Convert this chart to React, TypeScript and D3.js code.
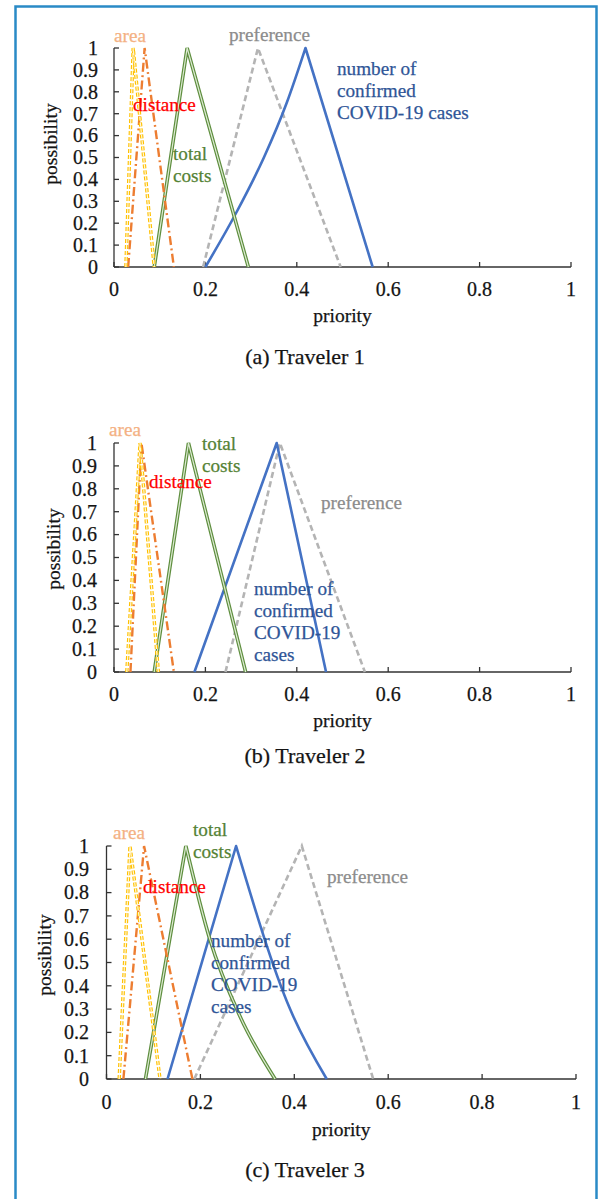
import React from "react";
import * as d3 from "d3";

type Pt = [number, number];

const W = 599;
const H = 1199;
const FONT = "'Liberation Serif', 'Times New Roman', Times, serif";

const xTicks = [0, 0.2, 0.4, 0.6, 0.8, 1];
const yTicks = [0, 0.1, 0.2, 0.3, 0.4, 0.5, 0.6, 0.7, 0.8, 0.9, 1];
const captions = ["(a) Traveler 1", "(b) Traveler 2", "(c) Traveler 3"];

// traveler 1: [priority, possibility]
const t1Area: Pt[] = [[0.026, 0], [0.042, 1], [0.088, 0]];
const t1Distance: Pt[] = [[0.031, 0], [0.067, 1], [0.131, 0]];
const t1Costs: Pt[] = [[0.088, 0], [0.16, 1], [0.294, 0]];
const t1Preference: Pt[] = [[0.195, 0], [0.315, 1], [0.496, 0]];
const t1Covid: Pt[] = [[0.2, 0], [0.268, 0.25], [0.328, 0.5], [0.378, 0.75], [0.419, 1], [0.566, 0]];

// traveler 2
const t2Area: Pt[] = [[0.028, 0], [0.057, 1], [0.097, 0]];
const t2Distance: Pt[] = [[0.036, 0], [0.06, 1], [0.131, 0]];
const t2Costs: Pt[] = [[0.088, 0], [0.163, 1], [0.288, 0]];
const t2Preference: Pt[] = [[0.244, 0], [0.363, 1], [0.549, 0]];
const t2Covid: Pt[] = [[0.176, 0], [0.356, 1], [0.464, 0]];

// traveler 3
const t3Area: Pt[] = [[0.027, 0], [0.05, 1], [0.114, 0]];
const t3Distance: Pt[] = [[0.036, 0], [0.08, 1], [0.183, 0]];
const t3Costs: Pt[] = [[0.083, 0], [0.169, 1], [0.22, 0.6], [0.284, 0.27], [0.359, 0]];
const t3Preference: Pt[] = [[0.187, 0], [0.416, 1], [0.568, 0]];
const t3Covid: Pt[] = [[0.13, 0], [0.276, 1], [0.391, 0.3], [0.469, 0]];

const labelArea = ["area"];
const labelDistance = ["distance"];
const labelCosts = ["total", "costs"];
const labelPreference = ["preference"];
const labelCovid1 = ["number of", "confirmed", "COVID-19 cases"];
const labelCovid = ["number of", "confirmed", "COVID-19", "cases"];

const COLORS = {
  area: "#FFC000",
  areaText: "#F4B183",
  distance: "#ED7D31",
  distanceText: "#FF0000",
  costs: "#5E8E3E",
  costsText: "#548235",
  preference: "#B4B4B4",
  preferenceText: "#8C8C8C",
  covid: "#4472C4",
  covidText: "#2F5597",
};

interface LabelPos {
  x: number;
  y: number;
}

interface PanelProps {
  area: Pt[];
  distance: Pt[];
  costs: Pt[];
  preference: Pt[];
  covid: Pt[];
  covidLines: string[];
  caption: string;
  x0: number;
  x1: number;
  yTop: number;
  yBottom: number;
  yTickRight: number;
  xTickBase: number;
  titleBase: number;
  captionBase: number;
  yTitleX: number;
  yTitleY: number;
  pos: { area: LabelPos; distance: LabelPos; costs: LabelPos; preference: LabelPos; covid: LabelPos };
}

const ink = "#141414";

const Panel = (p: PanelProps) => {
  const x = d3.scaleLinear().domain([0, 1]).range([p.x0, p.x1]);
  const y = d3.scaleLinear().domain([0, 1]).range([p.yBottom, p.yTop]);
  const smooth = d3.line<Pt>().x((d) => x(d[0])).y((d) => y(d[1])).curve(d3.curveMonotoneX);
  // split at the peak so the top stays sharp, smooth each side
  const line = (pts: Pt[]) => {
    const k = d3.maxIndex(pts, (d) => d[1]);
    return `${smooth(pts.slice(0, k + 1)) ?? ""}${(smooth(pts.slice(k)) ?? "").replace(/^M/, "L")}`;
  };
  const axisColor = "#333";

  const textBlock = (lines: string[], pos: LabelPos, color: string, key: string) => (
    <text key={key} x={pos.x} y={pos.y} fill={color} stroke={color} strokeWidth={0.25} fontSize={19.2} fontFamily={FONT}>
      {lines.map((l, i) => (
        <tspan key={i} x={pos.x} dy={i === 0 ? 0 : 22}>
          {l}
        </tspan>
      ))}
    </text>
  );

  return (
    <g>
      {/* axes */}
      <line x1={x(0)} x2={x(1)} y1={y(0)} y2={y(0)} stroke={axisColor} strokeWidth={1.3} />
      <line x1={x(0)} x2={x(0)} y1={y(0)} y2={y(1)} stroke={axisColor} strokeWidth={1.3} />
      <g fontFamily={FONT} fill={ink} stroke={ink} strokeWidth={0.25}>
        {xTicks.map((t) => (
          <g key={`x${t}`}>
            <line x1={x(t)} x2={x(t)} y1={y(0)} y2={y(0) - 5} stroke={axisColor} strokeWidth={1.3} />
            <text x={x(t)} y={p.xTickBase} textAnchor="middle" fontSize={20}>
              {d3.format("~g")(t)}
            </text>
          </g>
        ))}
        {yTicks.map((t) => (
          <g key={`y${t}`}>
            <line x1={x(0)} x2={x(0) + 5} y1={y(t)} y2={y(t)} stroke={axisColor} strokeWidth={1.3} />
            <text x={p.yTickRight} y={y(t)} dy="0.34em" textAnchor="end" fontSize={20}>
              {d3.format("~g")(t)}
            </text>
          </g>
        ))}
        <text x={(x(0) + x(1)) / 2} y={p.titleBase} textAnchor="middle" fontSize={19.5}>
          priority
        </text>
        <text transform={`translate(${p.yTitleX},${p.yTitleY}) rotate(-90)`} textAnchor="middle" fontSize={19.5}>
          possibility
        </text>
        <text x={305} y={p.captionBase} textAnchor="middle" fontSize={22}>
          {p.caption}
        </text>
      </g>

      {/* series */}
      <path d={line(p.preference)} fill="none" stroke={COLORS.preference} strokeWidth={2.6} strokeDasharray="6 3.5" />
      <path d={line(p.covid)} fill="none" stroke={COLORS.covid} strokeWidth={2.6} strokeLinejoin="round" />
      <path d={line(p.costs)} fill="none" stroke={COLORS.costs} strokeWidth={3.6} />
      <path d={line(p.costs)} fill="none" stroke="#DDEBD3" strokeWidth={1.2} />
      <path d={line(p.distance)} fill="none" stroke={COLORS.distance} strokeWidth={2.4} strokeDasharray="9 3.5 1.8 3.5" />
      <path d={line(p.area)} fill="none" stroke={COLORS.area} strokeWidth={3.4} strokeDasharray="4 2" />
      <path d={line(p.area)} fill="none" stroke="#FFF6D5" strokeWidth={1.2} strokeDasharray="4 2" />

      {/* labels */}
      {textBlock(labelArea, p.pos.area, COLORS.areaText, "la")}
      {textBlock(labelPreference, p.pos.preference, COLORS.preferenceText, "lp")}
      {textBlock(labelDistance, p.pos.distance, COLORS.distanceText, "ld")}
      {textBlock(labelCosts, p.pos.costs, COLORS.costsText, "lc")}
      {textBlock(p.covidLines, p.pos.covid, COLORS.covidText, "lv")}
    </g>
  );
};

export default function App() {
  return (
    <svg
      width={W}
      height={H}
      viewBox={`0 0 ${W} ${H}`}
      style={{ position: "absolute", left: 0, top: 0, background: "#fff" }}
    >
      <rect x={0} y={0} width={W} height={H} fill="#fff" />
      <path d={`M15.5,${H + 5} V6.5 H596.5 V${H + 5}`} fill="none" stroke="#2A8AC6" strokeWidth={2.5} />

      <Panel
        area={t1Area}
        distance={t1Distance}
        costs={t1Costs}
        preference={t1Preference}
        covid={t1Covid}
        covidLines={labelCovid1}
        caption={captions[0]}
        x0={114}
        x1={571}
        yTop={48}
        yBottom={267}
        yTickRight={98}
        xTickBase={296}
        titleBase={322}
        captionBase={364}
        yTitleX={57}
        yTitleY={144}
        pos={{
          area: { x: 114, y: 42 },
          preference: { x: 229, y: 41 },
          distance: { x: 133, y: 111 },
          costs: { x: 173, y: 160 },
          covid: { x: 337, y: 75 },
        }}
      />
      <Panel
        area={t2Area}
        distance={t2Distance}
        costs={t2Costs}
        preference={t2Preference}
        covid={t2Covid}
        covidLines={labelCovid}
        caption={captions[1]}
        x0={114}
        x1={571}
        yTop={443}
        yBottom={672}
        yTickRight={97}
        xTickBase={701}
        titleBase={727}
        captionBase={763}
        yTitleX={60}
        yTitleY={549}
        pos={{
          area: { x: 109, y: 436 },
          preference: { x: 321, y: 509 },
          distance: { x: 149, y: 488 },
          costs: { x: 202, y: 450 },
          covid: { x: 254, y: 595 },
        }}
      />
      <Panel
        area={t3Area}
        distance={t3Distance}
        costs={t3Costs}
        preference={t3Preference}
        covid={t3Covid}
        covidLines={labelCovid}
        caption={captions[2]}
        x0={106.5}
        x1={576}
        yTop={846}
        yBottom={1079}
        yTickRight={89}
        xTickBase={1109}
        titleBase={1136}
        captionBase={1177}
        yTitleX={51}
        yTitleY={955}
        pos={{
          area: { x: 113, y: 839 },
          preference: { x: 327, y: 883 },
          distance: { x: 143, y: 893 },
          costs: { x: 193, y: 836 },
          covid: { x: 211, y: 947 },
        }}
      />
    </svg>
  );
}
